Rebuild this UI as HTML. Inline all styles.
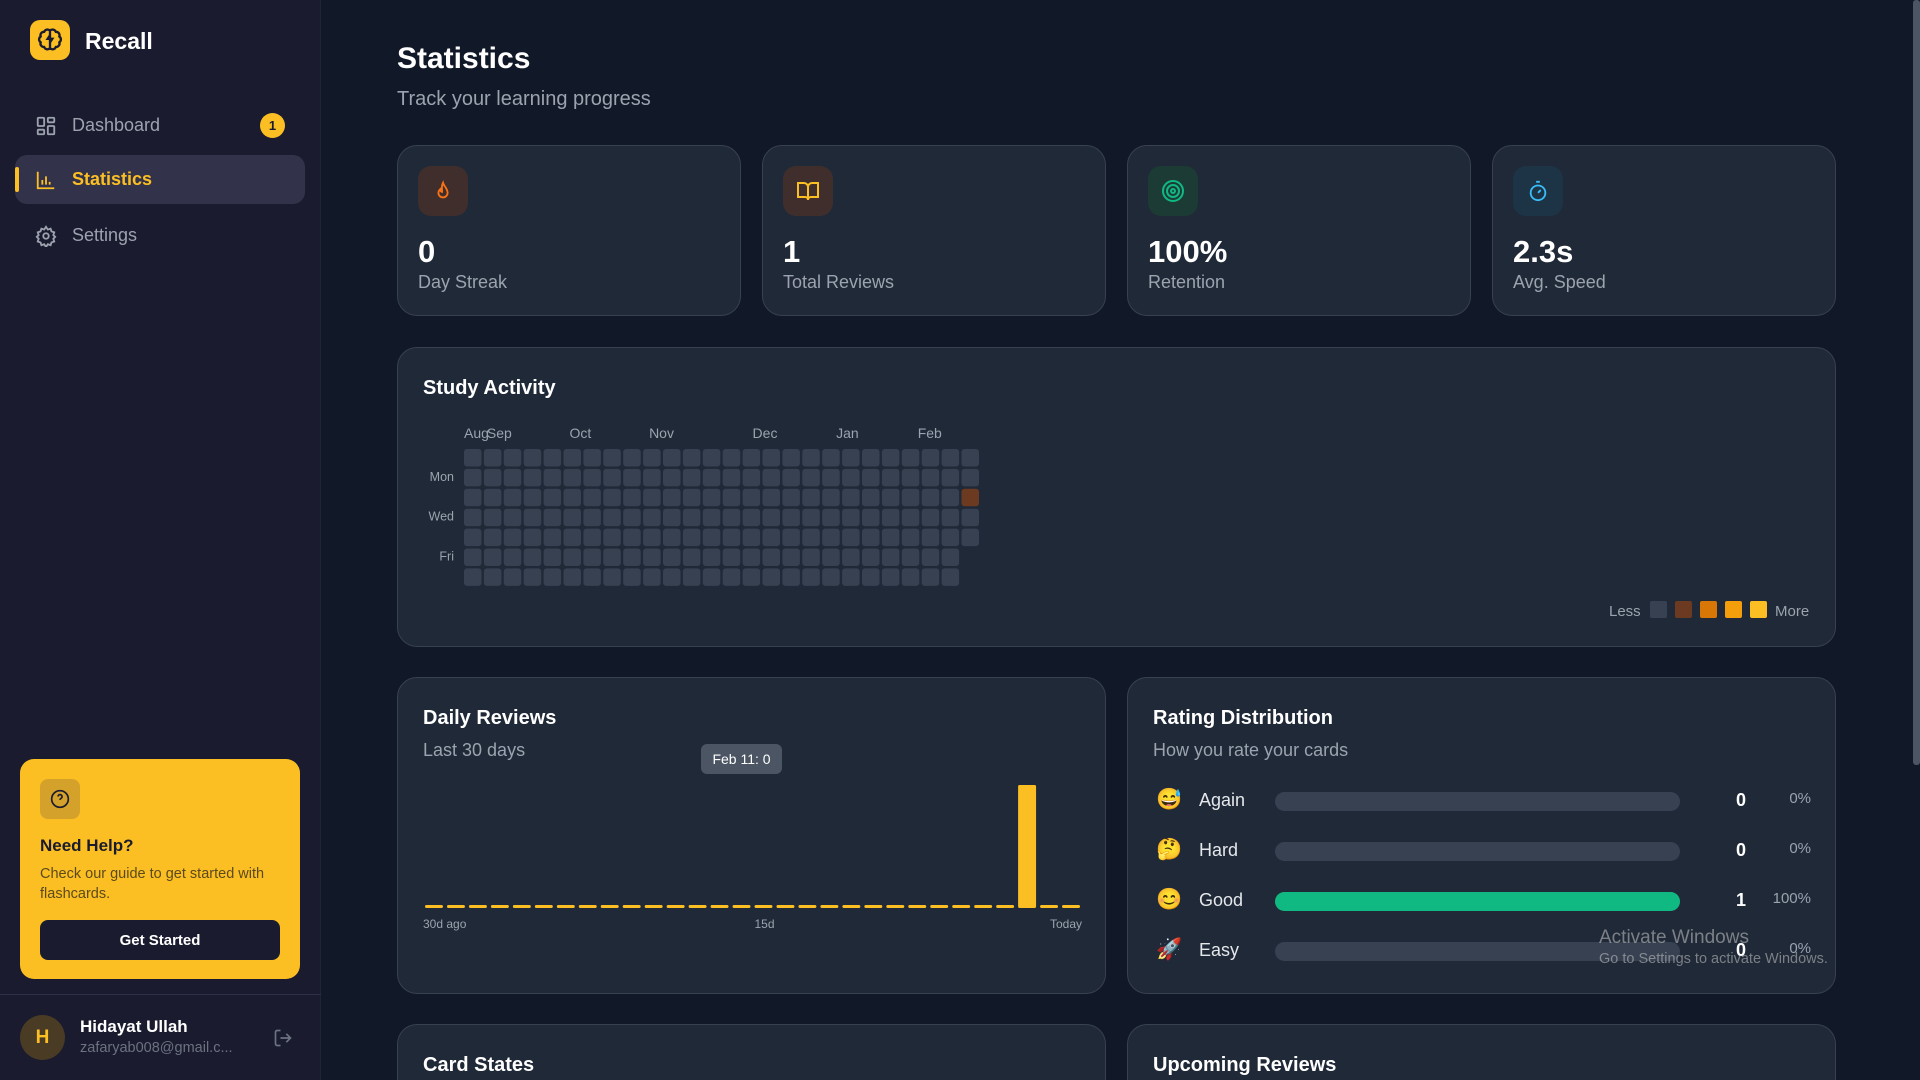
<!DOCTYPE html>
<html><head><meta charset="utf-8">
<style>
*{box-sizing:border-box;margin:0;padding:0}
html{width:1920px;height:1080px;overflow:hidden}
body{width:1920px;height:1080px;overflow:hidden;background:#111827;font-family:"Liberation Sans",sans-serif;color:#f3f4f6;position:relative}
.abs{position:absolute}
.sidebar{left:0;top:0;width:321px;height:1080px;background:#1a1b2e;border-right:1px solid #20233a}
.nav{left:15px;width:290px;height:49px;border-radius:12px;display:flex;align-items:center;font-size:18px;color:#9ca3af}
.nav svg{position:absolute;left:20px}
.nav span{position:absolute;left:57px}
.card{background:#1f2937;border:1px solid #374151;border-radius:20px}
.stat .ib{position:absolute;left:20px;top:20px;width:50px;height:50px;border-radius:13px;display:flex;align-items:center;justify-content:center}
.stat .num{position:absolute;left:20px;top:88px;font-size:31px;font-weight:bold;color:#fff}
.stat .lbl{position:absolute;left:20px;top:126px;font-size:18px;color:#9ca3af}
.ct{font-size:20px;font-weight:bold;color:#fff;position:absolute;left:25px}
.cs{font-size:18px;color:#9ca3af;position:absolute;left:25px}
.rrow{position:absolute;left:20px;width:670px;height:30px}
</style></head><body>
<div class="abs sidebar">
  <div class="abs" style="left:30px;top:20px;width:40px;height:40px;background:#fbbf24;border-radius:10px;display:flex;align-items:center;justify-content:center">
    <svg width="28" height="28" viewBox="0 0 24 24" fill="none" stroke="#1a1b2e" stroke-width="2"><path d="M12 4a3 3 0 0 0-5 1 3 3 0 0 0-3 4 3 3 0 0 0 0 5 3 3 0 0 0 3 4 3 3 0 0 0 5 1zM12 4a3 3 0 0 1 5 1 3 3 0 0 1 3 4 3 3 0 0 1 0 5 3 3 0 0 1-3 4 3 3 0 0 1-5 1z"/><path d="M12 8l-2 3h4l-2 3"/></svg>
  </div>
  <div class="abs" style="left:85px;top:28px;font-size:23px;font-weight:bold;color:#fff">Recall</div>
  <div class="abs nav" style="top:101px">
    <svg width="22" height="22" viewBox="0 0 24 24" fill="none" stroke="#9ca3af" stroke-width="2"><rect x="3" y="3" width="7" height="9" rx="1"/><rect x="14" y="3" width="7" height="5" rx="1"/><rect x="14" y="12" width="7" height="9" rx="1"/><rect x="3" y="16" width="7" height="5" rx="1"/></svg>
    <span>Dashboard</span>
    <div class="abs" style="left:245px;top:12px;width:25px;height:25px;border-radius:50%;background:#fbbf24;color:#1a1b2e;font-size:13px;font-weight:bold;display:flex;align-items:center;justify-content:center">1</div>
  </div>
  <div class="abs nav" style="top:155px;background:#32324a;color:#fbbf24;font-weight:bold">
    <div class="abs" style="left:0;top:12px;width:4px;height:25px;background:#fbbf24;border-radius:2px"></div>
    <svg width="22" height="22" viewBox="0 0 24 24" fill="none" stroke="#fbbf24" stroke-width="2"><path d="M3 3v18h18M8 17v-5M12 17V8M16 17v-3"/></svg>
    <span>Statistics</span>
  </div>
  <div class="abs nav" style="top:211px">
    <svg width="22" height="22" viewBox="0 0 24 24" fill="none" stroke="#9ca3af" stroke-width="2"><circle cx="12" cy="12" r="3"/><path d="M12 2l2 3 3-1 1 3 3 1-1 3 2 2-2 2 1 3-3 1-1 3-3-1-2 3-2-3-3 1-1-3-3-1 1-3-2-2 2-2-1-3 3-1 1-3 3 1z"/></svg>
    <span>Settings</span>
  </div>
  <div class="abs" style="left:20px;top:759px;width:280px;height:220px;background:#fbbf24;border-radius:14px">
    <div class="abs" style="left:20px;top:20px;width:40px;height:40px;border-radius:8px;background:#d4a12a;display:flex;align-items:center;justify-content:center">
      <svg width="20" height="20" viewBox="0 0 24 24" fill="none" stroke="#1a1b2e" stroke-width="2"><circle cx="12" cy="12" r="10"/><path d="M9.5 9a2.5 2.5 0 0 1 5 .5c0 1.5-2.5 2-2.5 3.5M12 17h.01"/></svg>
    </div>
    <div class="abs" style="left:20px;top:77px;font-size:17px;font-weight:bold;color:#1a1b2e">Need Help?</div>
    <div class="abs" style="left:20px;top:105px;width:235px;font-size:14.5px;line-height:20px;color:#5c4a1e">Check our guide to get started with flashcards.</div>
    <div class="abs" style="left:20px;top:161px;width:240px;height:40px;border-radius:8px;background:#1a1b2e;color:#fff;font-size:15px;font-weight:bold;display:flex;align-items:center;justify-content:center">Get Started</div>
  </div>
  <div class="abs" style="left:0;top:994px;width:321px;height:1px;background:#2d3048"></div>
  <div class="abs" style="left:20px;top:1015px;width:45px;height:45px;border-radius:50%;background:#4a3b25;color:#fbbf24;font-weight:bold;font-size:19px;display:flex;align-items:center;justify-content:center">H</div>
  <div class="abs" style="left:80px;top:1017px;font-size:17px;font-weight:bold;color:#fff">Hidayat Ullah</div>
  <div class="abs" style="left:80px;top:1040px;font-size:14.5px;color:#6b7280">zafaryab008@gmail.c...</div>
  <svg class="abs" style="left:273px;top:1028px" width="20" height="20" viewBox="0 0 24 24" fill="none" stroke="#6b7280" stroke-width="2"><path d="M9 21H5a2 2 0 0 1-2-2V5a2 2 0 0 1 2-2h4M16 17l5-5-5-5M21 12H9"/></svg>
</div>

<div class="abs" style="left:1913px;top:0;width:7px;height:765px;background:#4b5563;border-radius:3px"></div>

<div class="abs" style="left:397px;top:42px;font-size:30px;font-weight:bold;color:#fff">Statistics</div>
<div class="abs" style="left:397px;top:88px;font-size:20px;color:#9ca3af">Track your learning progress</div>

<div class="abs card stat" style="left:397px;top:145px;width:344px;height:171px">
  <div class="ib" style="background:#3f2e2c"><svg width="22" height="22" viewBox="0 0 24 24" fill="none" stroke="#f97316" stroke-width="2"><path d="M12 3c1 4 5 6 5 11a5 5 0 0 1-10 0c0-2 1-3 2-4 0 2 1 3 2 3 0-4-1-6 1-10z"/></svg></div>
  <div class="num">0</div><div class="lbl">Day Streak</div>
</div>
<div class="abs card stat" style="left:762px;top:145px;width:344px;height:171px">
  <div class="ib" style="background:#3f2e2c"><svg width="24" height="24" viewBox="0 0 24 24" fill="none" stroke="#fbbf24" stroke-width="2"><path d="M2 4h6a4 4 0 0 1 4 4v13a3 3 0 0 0-3-3H2zM22 4h-6a4 4 0 0 0-4 4v13a3 3 0 0 1 3-3h7z"/></svg></div>
  <div class="num">1</div><div class="lbl">Total Reviews</div>
</div>
<div class="abs card stat" style="left:1127px;top:145px;width:344px;height:171px">
  <div class="ib" style="background:#1c3b35"><svg width="24" height="24" viewBox="0 0 24 24" fill="none" stroke="#10b981" stroke-width="2"><circle cx="12" cy="12" r="10"/><circle cx="12" cy="12" r="6"/><circle cx="12" cy="12" r="2"/></svg></div>
  <div class="num">100%</div><div class="lbl">Retention</div>
</div>
<div class="abs card stat" style="left:1492px;top:145px;width:344px;height:171px">
  <div class="ib" style="background:#1d3447"><svg width="22" height="22" viewBox="0 0 24 24" fill="none" stroke="#38bdf8" stroke-width="2"><circle cx="12" cy="14" r="8"/><path d="M10 2h4M12 14l3-3"/></svg></div>
  <div class="num">2.3s</div><div class="lbl">Avg. Speed</div>
</div>

<div class="abs card" style="left:397px;top:347px;width:1439px;height:300px">
  <div class="ct" style="top:29px">Study Activity</div>
  <svg id="heat" class="abs" style="left:0;top:0" width="1439" height="300"></svg>
</div>

<div class="abs card" style="left:397px;top:677px;width:709px;height:317px">
  <div class="ct" style="top:29px">Daily Reviews</div>
  <div class="cs" style="top:62px">Last 30 days</div>
  <svg id="bars" class="abs" style="left:0;top:0" width="709" height="317"></svg>
</div>

<div class="abs card" style="left:1127px;top:677px;width:709px;height:317px">
  <div class="ct" style="top:29px">Rating Distribution</div>
  <div class="cs" style="top:62px">How you rate your cards</div>
  <div id="ratings"></div>
</div>

<div class="abs card" style="left:397px;top:1024px;width:709px;height:56px;border-bottom:none;border-bottom-left-radius:0;border-bottom-right-radius:0">
  <div class="ct" style="top:29px">Card States</div>
</div>
<div class="abs card" style="left:1127px;top:1024px;width:709px;height:56px;border-bottom:none;border-bottom-left-radius:0;border-bottom-right-radius:0">
  <div class="ct" style="top:29px">Upcoming Reviews</div>
</div>

<div class="abs" style="left:1599px;top:927px;color:rgba(200,200,200,0.55);font-size:19px">Activate Windows<div style="font-size:14.5px;margin-top:2px">Go to Settings to activate Windows.</div></div>

<script>
const NS='http://www.w3.org/2000/svg';
function mk(p,t,a){const e=document.createElementNS(NS,t);for(const k in a)e.setAttribute(k,a[k]);p.appendChild(e);return e;}

// Heatmap data
const heatMonths=['Aug','Sep','Oct','Nov','Dec','Jan','Feb'];
const heatMonthCols=[0,1.15,5.3,9.3,14.5,18.7,22.8];
const heatDays=['Mon','Wed','Fri'];
const heatDayRows=[1,3,5];
const heatWeeks=26;
const heatLastColRows=5;
const heatLevels=[[25,2,1]]; // [col,row,level]
const heatColors=['#374151','#6b3a20','#d97706','#f59e0b','#fbbf24'];

const heat=document.getElementById('heat');
const hx0=66,hy0=101,hp=19.9,hs=17.5;
function hx(c){return hx0+c*hp;} function hy(r){return hy0+r*hp;}
heatMonths.forEach((m,i)=>{const t=mk(heat,'text',{x:hx(heatMonthCols[i]),y:90,fill:'#9ca3af','font-size':14,'font-family':'Liberation Sans'});t.textContent=m;

});
heatDays.forEach((d,i)=>{const t=mk(heat,'text',{x:56,y:hy(heatDayRows[i])+12,fill:'#9ca3af','font-size':12.5,'text-anchor':'end','font-family':'Liberation Sans'});t.textContent=d;

});
for(let c=0;c<heatWeeks;c++){const rows=c===heatWeeks-1?heatLastColRows:7;for(let r=0;r<rows;r++){
 let lv=0;heatLevels.forEach(h=>{if(h[0]===c&&h[1]===r)lv=h[2];});
 const e=mk(heat,'rect',{x:hx(c),y:hy(r),width:hs,height:hs,rx:3,fill:heatColors[lv]});
 
 }}
const lg=mk(heat,'text',{x:1211,y:268,fill:'#9ca3af','font-size':15,'font-family':'Liberation Sans'});lg.textContent='Less';


heatColors.forEach((c,i)=>{const e=mk(heat,'rect',{x:1252+i*25,y:253,width:17,height:17,rx:2,fill:c});

});
const lm=mk(heat,'text',{x:1377,y:268,fill:'#9ca3af','font-size':15,'font-family':'Liberation Sans'});lm.textContent='More';



// Daily reviews data
const dayValues=[0,0,0,0,0,0,0,0,0,0,0,0,0,0,0,0,0,0,0,0,0,0,0,0,0,0,0,1,0,0];
const xTickLabels=['30d ago','15d','Today'];
const tooltipText='Feb 11: 0';

const bars=document.getElementById('bars');
const bx0=25,bx1=684,baseY=230,topY=107,maxV=1;
const pitch=(bx1-bx0)/dayValues.length, bw=pitch-4;
function bX(i){return bx0+2+i*pitch;} function bY(v){return baseY-(baseY-topY)*v/maxV;}
dayValues.forEach((v,i)=>{const h=Math.max(baseY-bY(v),3);
 const e=mk(bars,'rect',{x:bX(i),y:baseY-h,width:bw,height:h,rx:1.5,fill:'#fbbf24'});
 
 });
[[bx0,'start'],[(bx0+bx1)/2+12,'middle'],[bx1,'end']].forEach((p,i)=>{const t=mk(bars,'text',{x:p[0],y:250,fill:'#9ca3af','font-size':12,'text-anchor':p[1],'font-family':'Liberation Sans'});t.textContent=xTickLabels[i];

});
const tg=mk(bars,'rect',{x:303,y:66,width:81,height:30,rx:6,fill:'#4b5563'});


const tt=mk(bars,'text',{x:343.5,y:86,fill:'#fff','font-size':14,'text-anchor':'middle','font-family':'Liberation Sans'});tt.textContent=tooltipText;



// Rating data
const ratingNames=['Again','Hard','Good','Easy'];
const ratingEmoji=['😅','🤔','😊','🚀'];
const ratingCounts=[0,0,1,0];
const rc=document.getElementById('ratings');
const total=ratingCounts.reduce((a,b)=>a+b,0);
ratingNames.forEach((n,i)=>{
 const pct=total?Math.round(ratingCounts[i]/total*100):0;
 const row=document.createElement('div');row.className='rrow';row.style.top=(108+i*50)+'px';
 
 
 row.innerHTML='<div class="abs" style="left:8px;top:2px;font-size:21px;font-family:\'Noto Color Emoji\',sans-serif">'+ratingEmoji[i]+'</div>'+
 '<div class="abs" style="left:51px;top:4px;font-size:18px;color:#e5e7eb">'+n+'</div>'+
 '<div class="abs" style="left:127px;top:6px;width:405px;height:19px;border-radius:10px;background:#374151"><div style="width:'+pct+'%;height:100%;border-radius:10px;background:#10b981"></div></div>'+
 '<div class="abs" style="left:540px;width:58px;top:4px;text-align:right;font-size:18px;font-weight:bold;color:#fff">'+ratingCounts[i]+'</div>'+
 '<div class="abs" style="left:600px;width:63px;top:4px;text-align:right;font-size:15px;color:#9ca3af">'+pct+'%</div>';
 rc.appendChild(row);
});
</script>
</body></html>
